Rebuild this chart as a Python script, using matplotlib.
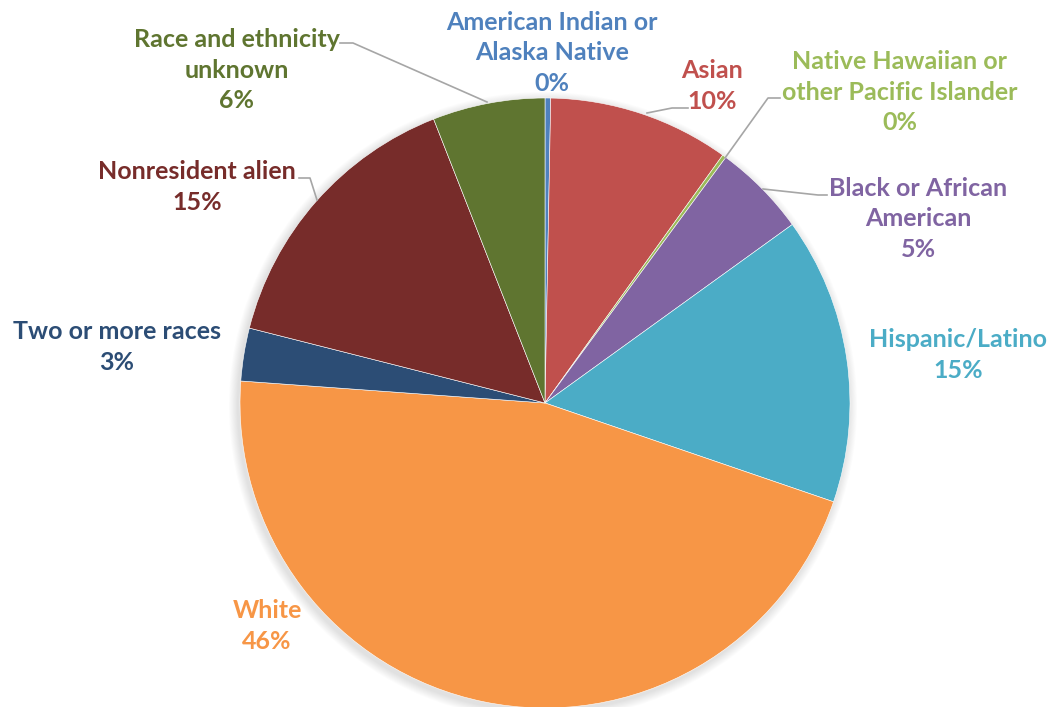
import matplotlib
matplotlib.use("Agg")
import matplotlib.pyplot as plt
from matplotlib.patches import Circle

# Enrollment share by race and ethnicity (percent)
categories = [
    "American Indian or\nAlaska Native",
    "Asian",
    "Native Hawaiian or\nother Pacific Islander",
    "Black or African\nAmerican",
    "Hispanic/Latino",
    "White",
    "Two or more races",
    "Nonresident alien",
    "Race and ethnicity\nunknown",
]
shares = [0.3, 9.6, 0.2, 4.95, 15.2, 45.9, 2.8, 15.1, 5.95]
colors = ["#4F81BD", "#C0504D", "#9BBB59", "#8064A2", "#4BACC6",
          "#F79646", "#2C4D75", "#772C2A", "#5F7530"]

W, H = 1047, 707
fig = plt.figure(figsize=(W / 100, H / 100), dpi=100)
ax = fig.add_axes([0, 0, 1, 1])
ax.axis("off")

cx, cy, r = 545, H - 403, 305

# soft drop shadow beneath the pie
for i in range(10):
    ax.add_patch(Circle((cx - 2, cy - 3), r + 1 + i * 0.9, color="black",
                        alpha=0.012, lw=0, zorder=0))

wedges, _ = ax.pie(shares, colors=colors, startangle=90, counterclock=False,
                   center=(cx, cy), radius=r,
                   wedgeprops=dict(edgecolor="white", linewidth=0.4))
ax.set_xlim(0, W)
ax.set_ylim(0, H)
ax.set_aspect("equal")

# label block centres (pixel coords from top)
label_pos = [
    (552, 53), (712, 86), (900, 92), (918, 219), (958, 355),
    (267, 626), (117, 347), (197, 187), (237, 70),
]
for name, val, col, (lx, ly) in zip(categories, shares, colors, label_pos):
    txt = f"{name}\n{val:.0f}%"
    ax.text(lx, H - ly, txt, ha="center", va="center", color=col,
            fontsize=18, fontweight="bold", family=["Lato", "DejaVu Sans"],
            linespacing=1.42)

# leader lines (pixel coords from top)
leaders = [
    [(340, 43), (353, 43), (487, 102)],
    [(688, 108), (672, 108), (647, 113)],
    [(780, 98), (768, 98), (725, 158)],
    [(827, 195), (818, 195), (763, 189)],
    [(299, 178), (310, 178), (317, 200)],
]
for pts in leaders:
    xs = [p[0] for p in pts]
    ys = [H - p[1] for p in pts]
    ax.plot(xs, ys, color="#A6A6A6", lw=1.2, zorder=5)

fig.savefig("out.png", dpi=100)
